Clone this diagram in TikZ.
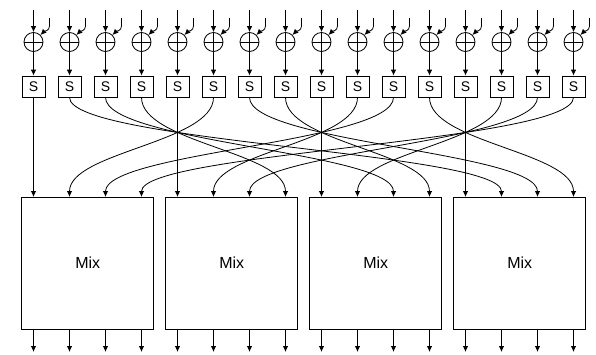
\documentclass[tikz,border=0pt]{standalone}
\usepackage{fontspec}
\setmainfont{Liberation Sans}
\usetikzlibrary{arrows.meta}

\begin{document}
\begin{tikzpicture}[x=1pt, y=-1pt, line width=0.8pt,
    arr/.style={-{Latex[length=6pt,width=5.5pt]}},
    xorop/.style={draw, circle, minimum size=19pt, inner sep=0pt,
      path picture={\draw (path picture bounding box.north) -- (path picture bounding box.south)
        (path picture bounding box.west) -- (path picture bounding box.east);}},
    sbox/.style={draw, minimum width=23pt, minimum height=21pt, inner sep=0pt, font=\fontsize{14}{14}\selectfont},
    mixbox/.style={draw, minimum width=132pt, minimum height=132pt, inner sep=0pt, font=\fontsize{16}{16}\selectfont}]
  \useasboundingbox (0,0) rectangle (596,354);
  % add round key, then S-boxes
  \foreach \i in {0,...,15} {
    \coordinate (top\i) at (33.5+36*\i,10);
    \coordinate (key\i) at (49.5+36*\i,18);
    \node[xorop] (x\i) at (33.5+36*\i,42) {};
    \node[sbox] (s\i) at (33.5+36*\i,86.5) {S};
    \coordinate (in\i) at (33.5+36*\i,197);
    \draw[arr] (top\i) -- (x\i);
    \draw[arr] (key\i) -- ++(0,8) to[out=-90, in=45] (x\i.north east);
    \draw[arr] (x\i) -- (s\i);
  }
  % mix columns
  \foreach \k in {0,...,3} {
    \node[mixbox] (m\k) at (87.7+144*\k,263) {Mix};
    \foreach \r in {0,...,3} {
      \pgfmathtruncatemacro{\n}{4*\k+\r}
      \coordinate (out\n) at (33.5+36*\n,352);
      \draw[arr] (33.5+36*\n,329) -- (out\n);
    }
  }
  % shift rows
  \foreach \c in {0,...,3} {
    \foreach \r in {0,...,3} {
      \pgfmathtruncatemacro{\i}{4*\c+\r}
      \pgfmathtruncatemacro{\j}{4*mod(\c-\r+4,4)+\r}
      \ifnum\r=0
        \draw[arr] (s\i.south) -- (in\j);
      \else
        \draw[arr] (s\i.south) .. controls +(0,45) and +(0,-45) .. (in\j);
      \fi
    }
  }
\end{tikzpicture}
\end{document}
